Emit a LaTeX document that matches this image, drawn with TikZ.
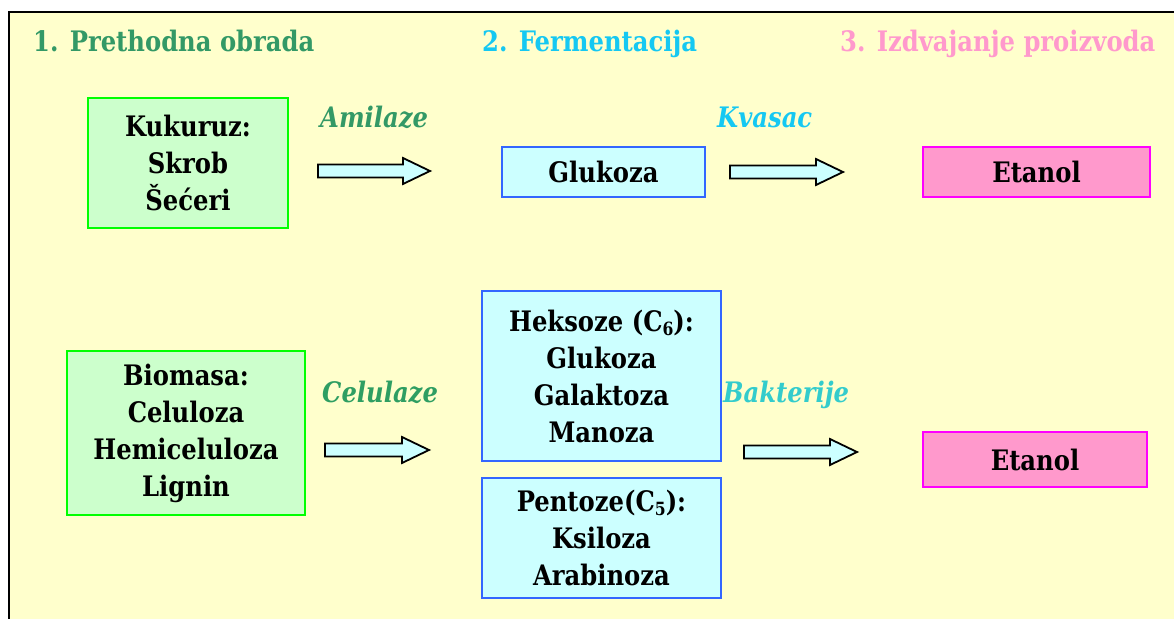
\documentclass[tikz,border=0pt]{standalone}
\usepackage{fontspec}
\setmainfont{DejaVu Serif}[Scale=0.91, FakeStretch=0.86]
\definecolor{bgyellow}{HTML}{FFFFCC}
\definecolor{ttlgreen}{HTML}{339966}
\definecolor{lblgreen}{HTML}{2E9E62}
\definecolor{ttlcyan}{HTML}{15C8F2}
\definecolor{ttlpink}{HTML}{FF99CC}
\definecolor{lblteal}{HTML}{33CCCC}
\definecolor{gfill}{HTML}{CCFFCC}
\definecolor{gline}{HTML}{00FF00}
\definecolor{bfill}{HTML}{CCFFFF}
\definecolor{bline}{HTML}{3366FF}
\definecolor{pfill}{HTML}{FF99CC}
\definecolor{pline}{HTML}{FF00FF}
\definecolor{afill}{HTML}{CCFFFF}
\tikzset{
  box/.style={line width=1.8pt, align=center, inner sep=0pt,
    font=\bfseries\fontsize{31}{37}\selectfont},
  greenbox/.style={box, draw=gline, fill=gfill},
  bluebox/.style={box, draw=bline, fill=bfill},
  pinkbox/.style={box, draw=pline, fill=pfill},
  ttl/.style={anchor=base west, inner sep=0pt, font=\bfseries\fontsize{31}{37}\selectfont},
  lbl/.style={anchor=base west, inner sep=0pt, font=\bfseries\itshape\fontsize{31}{37}\selectfont},
  barrow/.style={draw=black, fill=afill, line width=1.8pt, line join=miter},
  pics/blockarr/.style={code={
    \draw[barrow] (0,-6.5) -- (#1-27,-6.5) -- (#1-27,-13) -- (#1,0)
      -- (#1-27,13) -- (#1-27,6.5) -- (0,6.5) -- cycle;}}
}
\newcommand{\subsc}[1]{\raisebox{-0.3ex}{\fontsize{20}{20}\selectfont #1}}
\begin{document}
\begin{tikzpicture}[x=1pt,y=-1pt]
\useasboundingbox (0,0) rectangle (1174,618);
\clip (0,0) rectangle (1174,618);
\fill[white] (0,0) rectangle (1174,618);
\draw[line width=2pt, fill=bgyellow] (9,12) rectangle (1190,640);

% titles
\node[ttl, text=ttlgreen] (t1) at (33,52) {1. Prethodna obrada};
\node[ttl, text=ttlcyan] (t2) at (482,52) {2. Fermentacija};
\node[ttl, text=ttlpink] (t3) at (840,52) {3. Izdvajanje proizvoda};

% row 1
\node[greenbox, minimum width=200, minimum height=130] (kuk) at (188,163)
  {Kukuruz:\\Skrob\\Šećeri};
\node[bluebox, minimum width=203, minimum height=50] (glu) at (603.5,172) {Glukoza};
\node[pinkbox, minimum width=227, minimum height=50] (et1) at (1036.5,172) {Etanol};
\node[lbl, text=ttlgreen] (amil) at (320,127) {Amilaze};
\node[lbl, text=ttlcyan] (kvas) at (717,127) {Kvasac};
\pic at (318,171) {blockarr=112};
\pic at (730,172) {blockarr=113};

% row 2
\node[greenbox, minimum width=238, minimum height=164] (bio) at (186,433)
  {Biomasa:\\Celuloza\\Hemiceluloza\\Lignin};
\node[bluebox, minimum width=239, minimum height=170] (hek) at (601.5,376)
  {Heksoze (C\subsc{6}):\\Glukoza\\Galaktoza\\Manoza};
\node[bluebox, minimum width=239, minimum height=120] (pen) at (601.5,538)
  {Pentoze(C\subsc{5}):\\Ksiloza\\Arabinoza};
\node[pinkbox, minimum width=224, minimum height=55] (et2) at (1035,459.5) {Etanol};
\node[lbl, text=lblgreen] (celu) at (322,402) {Celulaze};
\node[lbl, text=lblteal] (bakt) at (723,402) {Bakterije};
\pic at (325,450) {blockarr=104};
\pic at (744,452) {blockarr=113};
\end{tikzpicture}
\end{document}
